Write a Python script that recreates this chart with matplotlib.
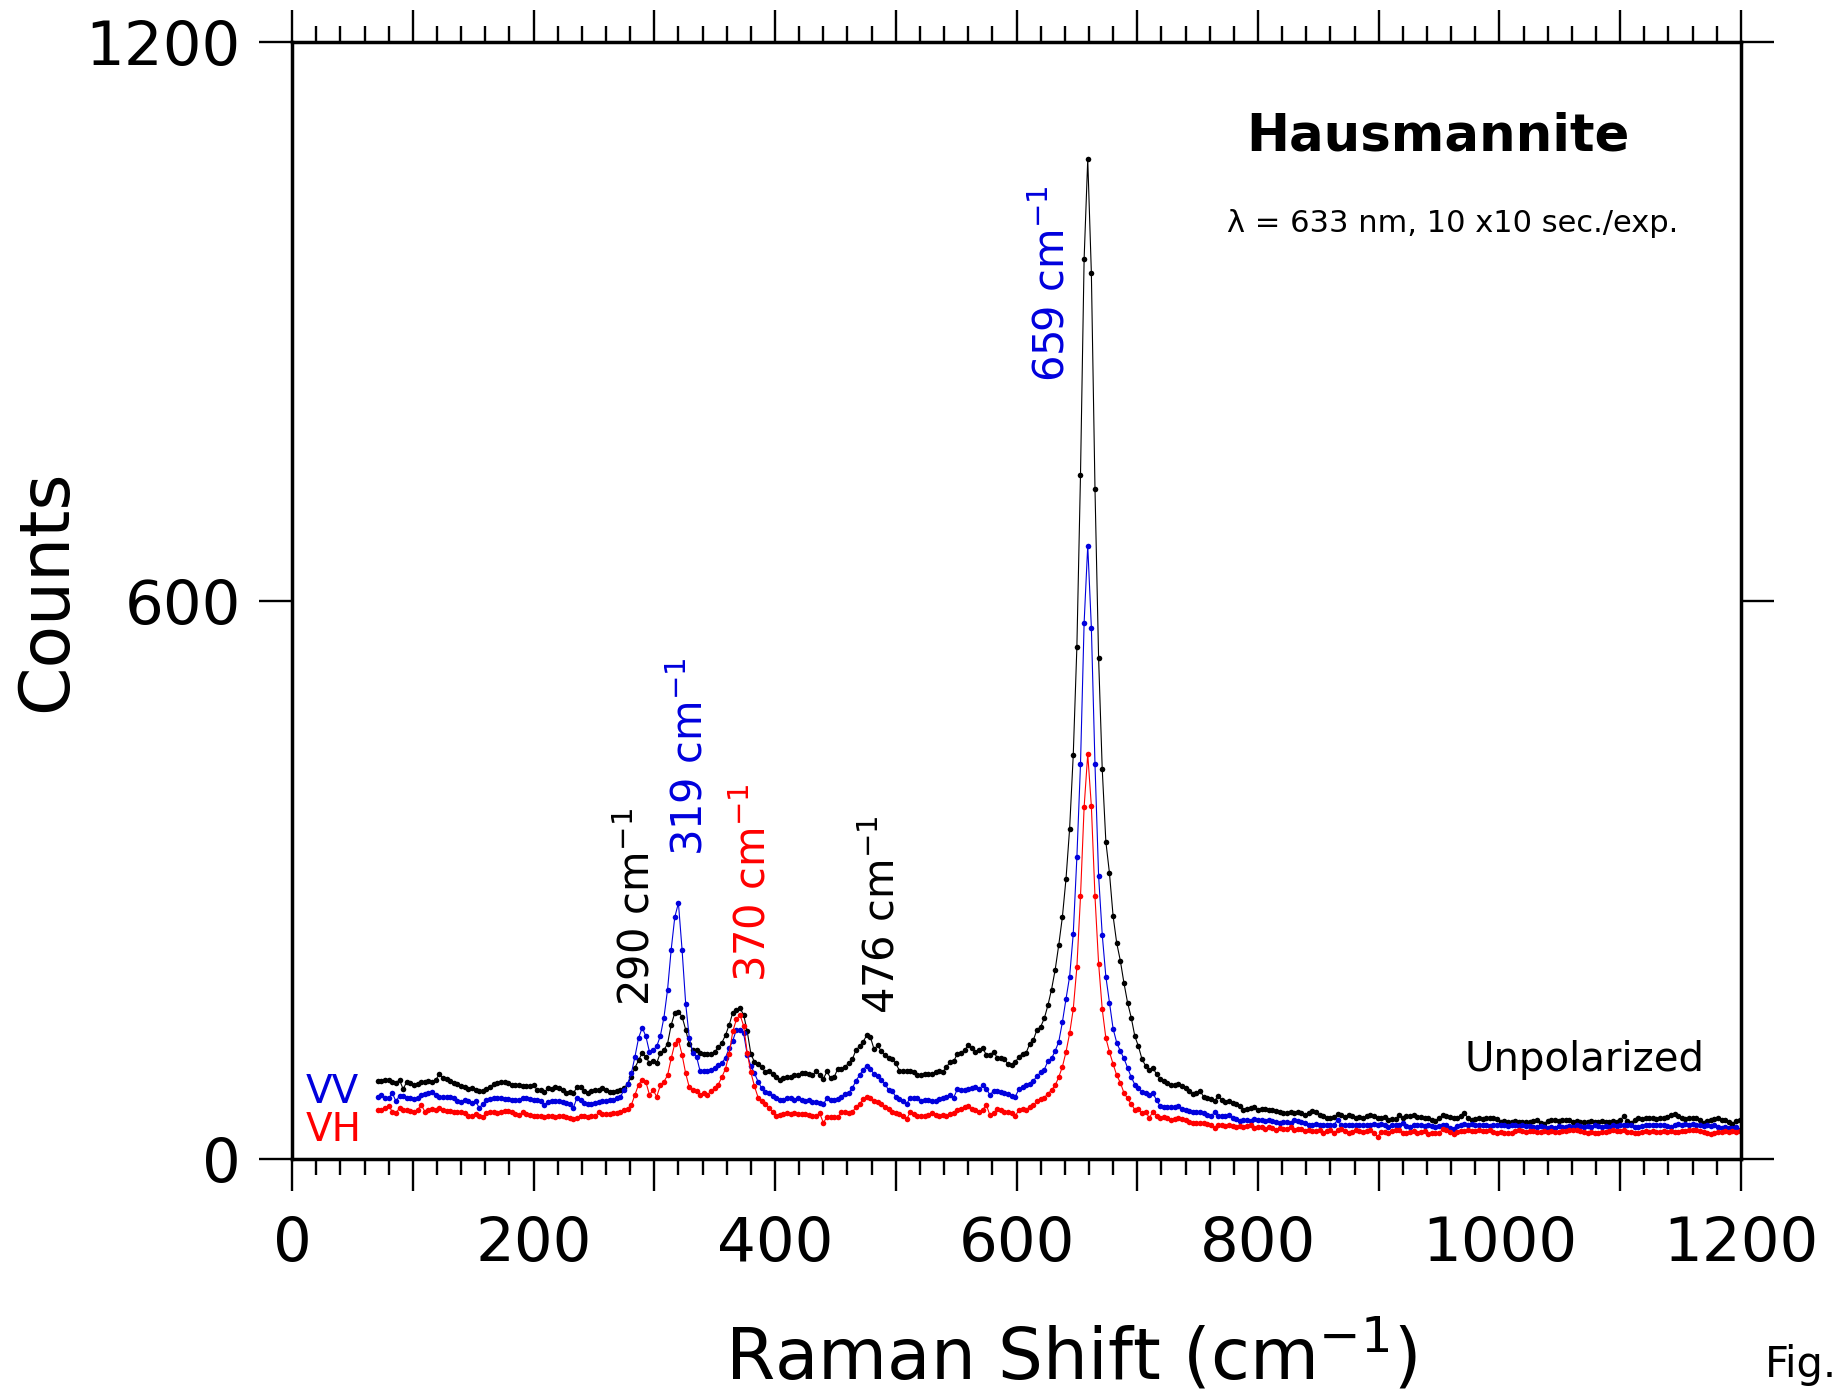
import numpy as np
import matplotlib
matplotlib.use("Agg")
import matplotlib.pyplot as plt
from matplotlib.ticker import MultipleLocator, FuncFormatter

# detector grid, Raman shift in cm-1
shift = np.arange(71, 1200, 3)

unpolarized = [
    84, 84, 85, 85, 83, 82, 85, 75, 83, 82,
    79, 81, 83, 83, 84, 83, 85, 91, 87, 86,
    84, 82, 81, 78, 77, 75, 76, 74, 73, 73,
    75, 77, 81, 82, 83, 83, 82, 80, 79, 80,
    78, 78, 78, 80, 74, 74, 72, 76, 75, 77,
    76, 74, 71, 72, 71, 77, 77, 73, 71, 73,
    74, 74, 76, 74, 72, 72, 73, 74, 76, 81,
    88,
    98, 106, 114, 110, 103, 105, 103, 114, 117, 124,
    144, 157, 158, 153, 139, 123, 117, 117, 114, 113,
    113, 113, 115, 120, 125, 133, 144, 157, 160, 162,
    155, 137, 113, 104, 102, 99, 93, 94, 91, 88,
    85, 87, 88, 88, 90, 90, 92, 92, 91, 90,
    94, 90, 86, 94, 87,
    88, 97, 97, 99, 103, 107, 117, 121, 126, 133,
    131, 118, 122, 116, 112, 109, 107, 103, 95, 94,
    94, 94, 93, 90, 90, 91, 91, 91, 93, 95,
    93, 99, 104, 105, 113, 114, 117, 122, 119, 115,
    117, 119, 112, 112, 115, 109, 108, 107, 102, 101,
    104, 110, 113, 114, 124, 128, 139, 142, 151, 165,
    182, 203, 230, 260, 301, 355, 434, 550, 735, 967,
    1074, 952, 720, 538, 419, 341, 307, 261, 232, 213,
    189,
    168, 152, 132, 121, 107, 100, 96, 98, 91, 86,
    84, 82, 80, 80, 81, 78, 76, 73, 70, 71,
    73, 67, 66, 64, 62, 68, 63, 61, 62, 60,
    59, 57, 53, 54, 55, 56, 53, 54, 54, 53,
    53, 52, 51, 49, 49, 50, 49, 50, 49, 47,
    49, 52, 50, 47, 46, 44, 44, 45, 48, 47,
    45, 47, 46, 44, 45, 44, 46, 47, 46, 44,
    44, 45, 42, 43, 43, 47, 44, 46, 46, 47,
    45, 45, 44, 44, 42, 41, 44,
    47, 46, 45, 44, 44, 46, 49, 44, 42, 43,
    44, 43, 44, 44, 44, 43, 40, 41, 40, 40,
    41, 40, 40, 40, 40, 41, 42, 39, 38, 41,
    42, 42, 41, 42, 42, 42, 40, 41, 40, 40,
    40, 41, 40, 40, 41, 40, 40, 41, 40, 42,
    46, 41, 39, 42, 44, 43, 44, 44, 44, 43,
    44, 44, 45, 47, 48, 46, 44, 43, 44, 44,
    44, 42, 39, 41, 42, 43, 44, 42, 42, 40,
    38, 41, 42,
]

vv = [
    67, 69, 65, 65, 71, 62, 68, 68, 66, 65,
    64, 65, 69, 70, 71, 72, 69, 67, 67, 67,
    67, 66, 62, 61, 63, 62, 60, 62, 55, 59,
    63, 64, 65, 65, 65, 64, 64, 63, 63, 63,
    66, 65, 64, 63, 63, 62, 58, 61, 62, 62,
    62, 61, 60, 59, 55, 66, 63, 60, 59, 59,
    60, 61, 62, 62, 63, 63, 65, 67, 74, 81,
    92,
    110, 130, 141, 132, 115, 117, 121, 132, 152, 182,
    225, 260, 275, 225, 167, 130, 114, 110, 94, 95,
    94, 96, 98, 101, 103, 109, 119, 127, 139, 139,
    135, 112, 100, 92, 83, 76, 72, 71, 68, 65,
    63, 63, 65, 65, 63, 65, 63, 62, 63, 61,
    61, 60, 59, 65, 63,
    63, 64, 67, 70, 71, 76, 84, 90, 96, 100,
    97, 91, 89, 85, 81, 74, 73, 67, 64, 62,
    59, 66, 66, 65, 62, 63, 63, 62, 62, 64,
    66, 67, 69, 66, 75, 74, 74, 75, 76, 77,
    75, 79, 75, 69, 73, 73, 72, 71, 70, 68,
    67, 75, 77, 79, 81, 84, 89, 93, 96, 105,
    108, 116, 126, 147, 172, 196, 242, 324, 424, 576,
    659, 571, 424, 304, 241, 196, 168, 140, 125, 116,
    108,
    98, 88, 80, 76, 72, 71, 69, 71, 63, 57,
    56, 56, 56, 56, 57, 54, 53, 52, 51, 51,
    50, 49, 47, 46, 50, 46, 46, 46, 47, 44,
    43, 41, 42, 42, 41, 43, 42, 42, 41, 42,
    41, 40, 39, 40, 40, 39, 42, 41, 40, 39,
    37, 37, 38, 37, 36, 36, 36, 37, 42, 36,
    37, 37, 37, 36, 36, 37, 36, 37, 38, 36,
    38, 36, 34, 36, 37, 37, 39, 35, 34, 37,
    36, 36, 35, 37, 35, 34, 35,
    36, 37, 33, 32, 35, 37, 38, 37, 38, 37,
    36, 37, 36, 35, 37, 36, 37, 36, 35, 37,
    36, 35, 36, 35, 35, 34, 34, 35, 34, 33,
    34, 33, 35, 34, 34, 35, 34, 36, 35, 34,
    35, 34, 36, 35, 34, 35, 34, 36, 35, 36,
    37, 36, 36, 34, 34, 35, 37, 36, 37, 36,
    37, 36, 35, 34, 36, 38, 37, 38, 37, 38,
    37, 36, 35, 36, 35, 36, 34, 33, 34, 33,
    33, 34, 31,
]

vh = [
    53, 53, 55, 57, 51, 49, 55, 53, 53, 52,
    51, 53, 58, 51, 53, 54, 53, 55, 53, 52,
    52, 51, 51, 50, 49, 46, 46, 48, 46, 45,
    49, 50, 50, 49, 50, 52, 52, 50, 48, 47,
    50, 48, 47, 46, 46, 46, 45, 46, 46, 45,
    46, 46, 45, 44, 43, 44, 46, 46, 45, 46,
    46, 50, 48, 48, 48, 49, 49, 50, 53, 54,
    58,
    69, 80, 85, 83, 69, 74, 67, 79, 83, 90,
    108, 124, 128, 112, 92, 77, 74, 73, 69, 71,
    69, 73, 76, 80, 88, 97, 113, 137, 150, 155,
    143, 114, 93, 78, 66, 62, 59, 55, 51, 46,
    47, 48, 49, 48, 49, 48, 48, 48, 47, 46,
    46, 49, 39, 45, 45,
    45, 45, 50, 50, 49, 50, 56, 59, 64, 67,
    65, 62, 61, 59, 56, 54, 51, 49, 48, 46,
    43, 50, 48, 46, 46, 46, 47, 49, 47, 46,
    47, 46, 48, 49, 53, 54, 56, 57, 54, 53,
    50, 53, 58, 47, 49, 54, 53, 51, 50, 49,
    46, 53, 54, 53, 56, 58, 62, 64, 66, 70,
    74, 79, 88, 99, 115, 135, 161, 206, 282, 378,
    435, 379, 282, 210, 161, 130, 115, 102, 90, 82,
    71,
    65, 59, 53, 54, 49, 51, 44, 51, 46, 44,
    45, 44, 42, 43, 44, 43, 42, 40, 39, 39,
    39, 39, 38, 37, 33, 36, 36, 35, 36, 35,
    34, 35, 34, 35, 36, 33, 34, 34, 32, 34,
    33, 31, 33, 32, 32, 34, 31, 32, 32, 30,
    31, 30, 30, 31, 28, 30, 31, 28, 31, 32,
    30, 28, 29, 31, 30, 29, 30, 31, 28, 24,
    29, 29, 28, 30, 31, 31, 28, 28, 29, 30,
    28, 29, 30, 27, 28, 28, 28,
    32, 31, 29, 27, 29, 30, 30, 31, 30, 30,
    31, 30, 30, 31, 29, 28, 29, 28, 28, 28,
    30, 31, 30, 29, 30, 30, 29, 29, 30, 29,
    30, 29, 29, 30, 30, 31, 31, 31, 30, 29,
    28, 29, 28, 28, 29, 29, 30, 31, 30, 30,
    31, 29, 29, 28, 28, 29, 30, 29, 30, 29,
    29, 30, 29, 30, 29, 29, 30, 30, 31, 31,
    31, 30, 29, 28, 27, 28, 29, 29, 30, 29,
    30, 29, 30,
]

BLUE = "#0000dd"
RED = "#ff0000"

fig = plt.figure(figsize=(18.45, 13.92), dpi=100)
ax = fig.add_axes([0.1583, 0.1674, 0.7853, 0.8024])

style = dict(marker="o", ms=4.0, mew=0, lw=0.8)
ax.plot(shift, unpolarized, color="black", **style)
ax.plot(shift, vv, color=BLUE, **style)
ax.plot(shift, vh, color=RED, **style)

ax.set_xlim(0, 1200)
ax.set_ylim(0, 1200)
ax.xaxis.set_major_locator(MultipleLocator(100))
ax.xaxis.set_minor_locator(MultipleLocator(20))
ax.xaxis.set_major_formatter(FuncFormatter(
    lambda v, p: "%d" % v if int(round(v)) % 200 == 0 else ""))
ax.set_yticks([0, 600, 1200])

for s in ax.spines.values():
    s.set_linewidth(2.5)
ax.tick_params(axis="x", which="major", direction="out", length=23, width=1.7,
               top=True, labelsize=44, pad=17)
ax.tick_params(axis="x", which="minor", direction="out", length=11.5, width=1.7,
               top=True)
ax.tick_params(axis="y", which="major", direction="out", length=24, width=1.7,
               right=True, labelsize=44, pad=13)

# peak labels, rotated, anchored at baseline start
peaks = [("290 cm$^{-1}$", "black", 296, 164),
         ("319 cm$^{-1}$", BLUE, 340, 325),
         ("370 cm$^{-1}$", RED, 392, 190),
         ("476 cm$^{-1}$", "black", 499, 156),
         ("659 cm$^{-1}$", BLUE, 640, 835)]
for txt, c, px, py in peaks:
    ax.text(px, py, txt, color=c, fontsize=30, rotation=90,
            rotation_mode="anchor", ha="left", va="baseline")

fig.text(0.0255, 0.5754, "Counts", rotation=90, ha="center", va="center",
         fontsize=50)
fig.text(0.5805, 0.0093, "Raman Shift (cm$^{-1}$)", ha="center",
         va="baseline", fontsize=51)
fig.text(0.7794, 0.8922, "Hausmannite", ha="center", va="baseline",
         fontsize=37, fontweight="bold")
fig.text(0.7875, 0.8333, "\u03bb = 633 nm, 10 x10 sec./exp.", ha="center",
         va="baseline", fontsize=22)
fig.text(0.859, 0.2306, "Unpolarized", ha="center", va="baseline", fontsize=29)
fig.text(0.1659, 0.2075, "VV", color=BLUE, va="baseline", fontsize=28)
fig.text(0.1659, 0.1803, "VH", color=RED, va="baseline", fontsize=28)
fig.text(0.9566, 0.0108, "Fig.", va="baseline", fontsize=30)

fig.savefig("out.png", dpi=100)
